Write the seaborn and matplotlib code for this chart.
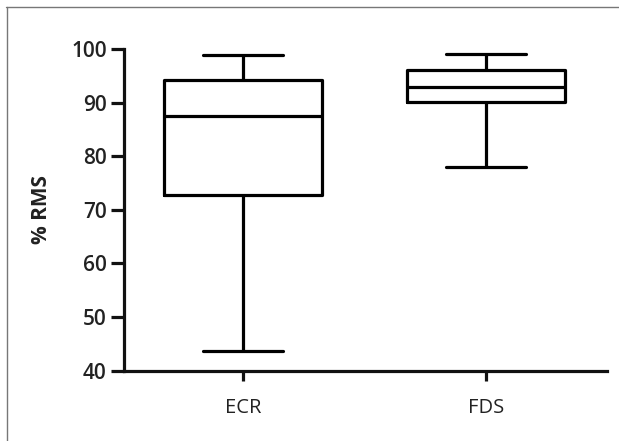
import matplotlib
matplotlib.use("Agg")
import matplotlib.pyplot as plt
import seaborn as sns
import pandas as pd
from matplotlib.lines import Line2D

categories = ["ECR", "FDS"]
# five-number summaries (min, Q1, median, Q3, max)
ecr_values = [43.7, 72.8, 87.5, 94.2, 98.8]
fds_values = [77.9, 90.1, 93.0, 96.1, 99.1]
y_ticks = [40, 50, 60, 70, 80, 90, 100]
y_label = "% RMS"

df = pd.DataFrame({
    "group": [categories[0]] * len(ecr_values) + [categories[1]] * len(fds_values),
    "value": ecr_values + fds_values,
})

sns.set_style("white")
plt.rcParams["font.family"] = ["Open Sans", "DejaVu Sans"]

fig = plt.figure(figsize=(6.19, 4.41), dpi=100)
ax = fig.add_axes([0.2003, 0.1594, 0.9806 - 0.2003, 0.8889 - 0.1594])

lw = 2.3
sns.boxplot(data=df, x="group", y="value", order=categories, whis=(0, 100),
            width=0.654, fill=False, color="black", linewidth=lw,
            linecolor="#111111", ax=ax)

ax.set_xlim(-0.49, 1.498)
ax.set_ylim(40, 100)
ax.set_yticks(y_ticks)
ax.set_yticklabels([str(t) for t in y_ticks], fontsize=15, fontweight="semibold", color="#222222")
ax.set_xticks(range(len(categories)))
ax.set_xticklabels(categories, fontsize=14.5, color="#222222")
ax.set_xlabel("")
ax.set_ylabel(y_label, fontsize=15, fontweight="bold", color="#222222", labelpad=14)

for side in ["top", "right"]:
    ax.spines[side].set_visible(False)
for side in ["left", "bottom"]:
    ax.spines[side].set_linewidth(lw)
    ax.spines[side].set_color("#111111")

ax.tick_params(axis="y", direction="out", length=9.5, width=lw, color="#111111", pad=3, left=True)
ax.tick_params(axis="x", direction="out", length=7.5, width=lw, color="#111111", pad=12, bottom=True)

# frame lines at the top and left of the image
fig.add_artist(Line2D([6 / 619, 1.0], [1 - 6.5 / 441, 1 - 6.5 / 441], color="#777777", linewidth=1.0))
fig.add_artist(Line2D([6.5 / 619, 6.5 / 619], [0.0, 1 - 6.5 / 441], color="#777777", linewidth=1.0))

fig.savefig("out.png", dpi=100)
